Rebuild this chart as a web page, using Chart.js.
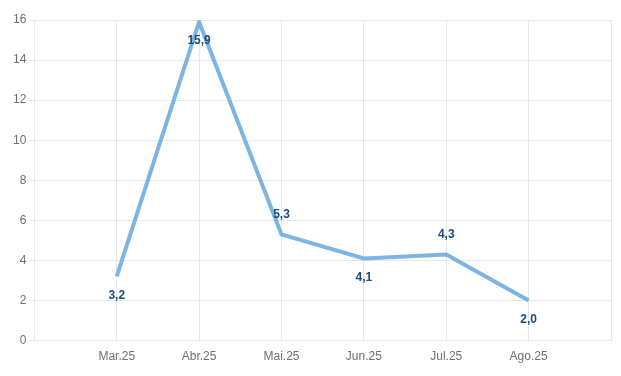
<!DOCTYPE html>
<html>
<head>
<meta charset="utf-8">
<script src="https://cdn.jsdelivr.net/npm/chart.js@4"></script>
<style>
  html, body { margin: 0; padding: 0; background: #fff; }
  #wrap { width: 621px; height: 376px; }
</style>
</head>
<body>
<div id="wrap"><canvas id="lineChart"></canvas></div>
<script>
// months shown on the x axis
const months = ['Mar.25', 'Abr.25', 'Mai.25', 'Jun.25', 'Jul.25', 'Ago.25'];
// monthly values
const values = [3.2, 15.9, 5.3, 4.1, 4.3, 2.0];
// y axis ticks
const yTicks = [0, 2, 4, 6, 8, 10, 12, 14, 16];
// where each value label sits relative to its point
const labelSide = ['below', 'below', 'above', 'below', 'above', 'below'];

// empty slot on each side, like the original
const labels = [''].concat(months, ['']);
const data = [null].concat(values, [null]);

const valueLabels = {
  id: 'valueLabels',
  afterDatasetsDraw(chart) {
    const ctx = chart.ctx;
    const meta = chart.getDatasetMeta(0);
    ctx.save();
    ctx.font = 'bold 12px "Liberation Sans", Arial, sans-serif';
    ctx.fillStyle = '#1b4a7e';
    ctx.textAlign = 'center';
    ctx.textBaseline = 'middle';
    values.forEach((v, i) => {
      const pt = meta.data[i + 1];
      const dy = labelSide[i] === 'above' ? -20 : 19;
      ctx.fillText(v.toFixed(1).replace('.', ','), pt.x, pt.y + dy);
    });
    ctx.restore();
  }
};

const ctx = document.getElementById('lineChart').getContext('2d');
new Chart(ctx, {
  type: 'line',
  data: {
    labels: labels,
    datasets: [{
      data: data,
      borderColor: '#7cb4e2',
      borderWidth: 4,
      pointRadius: 0,
      tension: 0,
      fill: false
    }]
  },
  options: {
    responsive: true,
    maintainAspectRatio: false,
    animation: false,
    layout: { padding: { left: 10, right: 10, top: 20, bottom: 3 } },
    plugins: {
      legend: { display: false },
      tooltip: { enabled: false }
    },
    scales: {
      x: {
        offset: false,
        grid: { color: '#e8e8e8', drawTicks: false },
        border: { color: '#e8e8e8' },
        ticks: {
          color: '#6f6f6f',
          font: { family: '"Liberation Sans", Arial, sans-serif', size: 12 },
          padding: 9,
          maxRotation: 0,
          autoSkip: false
        }
      },
      y: {
        min: 0,
        max: 16,
        afterBuildTicks: axis => { axis.ticks = yTicks.map(v => ({ value: v })); },
        grid: { color: '#e8e8e8', tickLength: 5 },
        border: { color: '#e8e8e8' },
        ticks: {
          color: '#6f6f6f',
          font: { family: '"Liberation Sans", Arial, sans-serif', size: 12 },
          padding: 3
        }
      }
    }
  },
  plugins: [valueLabels]
});
</script>
</body>
</html>
